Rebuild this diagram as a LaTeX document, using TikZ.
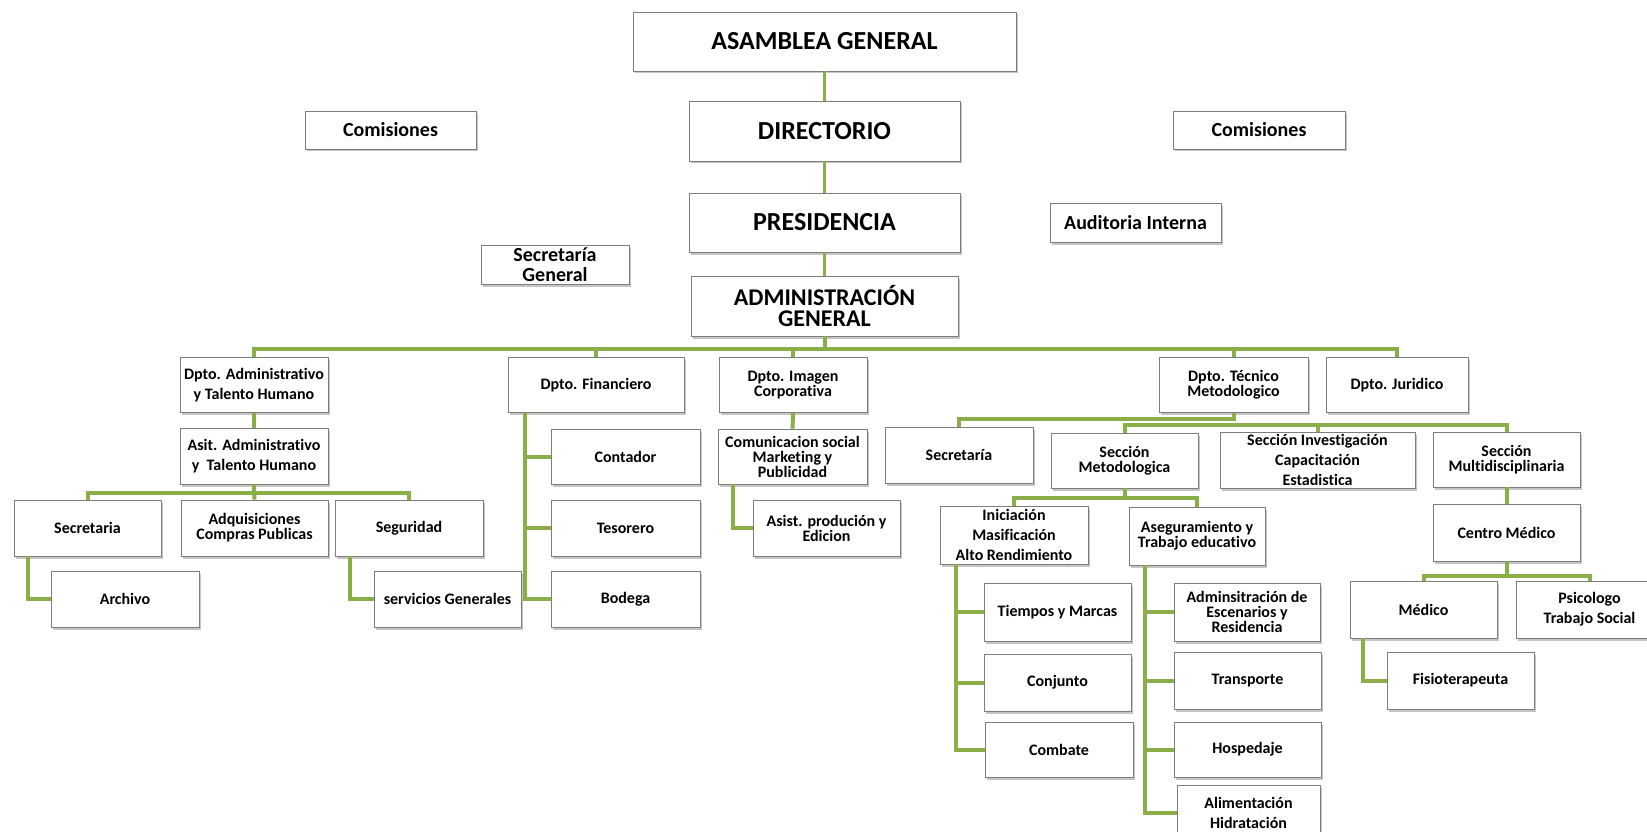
\documentclass[tikz,border=0pt]{standalone}
\usepackage{fontspec}
\setmainfont{Carlito}[Ligatures=NoCommon]
\usetikzlibrary{shadows}
\definecolor{orggreen}{RGB}{138,174,72}
\definecolor{orgedge}{RGB}{125,125,125}
\tikzset{
    unit/.style={draw=orgedge, fill=white, line width=0.8pt, align=center, inner sep=0pt,
        font=\bfseries\fontsize{16}{15}\selectfont,
        drop shadow={shadow xshift=1.5pt, shadow yshift=-2.5pt, opacity=.45}},
    roomy/.style={unit, font=\bfseries\fontsize{16}{20}\selectfont},
    sz/.style 2 args={minimum width=#1, minimum height=#2},
    head/.style={unit, font=\bfseries\fontsize{26}{21}\selectfont},
    side/.style={unit, font=\bfseries\fontsize{20}{20}\selectfont},
    link/.style={draw=orggreen, line width=4pt},
}
\begin{document}
\begin{tikzpicture}[x=1pt, y=-1pt]
    \fill[white] (0,0) rectangle (1647,832);
    \useasboundingbox (0,0) rectangle (1647,832);
    \clip (0,0) rectangle (1647,832);

    \node[head, sz={383}{59}] (asamblea) at (824.5, 41.5) {ASAMBLEA GENERAL};
    \node[head, sz={271}{60}] (directorio) at (824.5, 131) {DIRECTORIO};
    \node[side, sz={171}{38}] (comisl) at (390.5, 130) {Comisiones};
    \node[side, sz={172}{38}] (comisr) at (1259, 130) {Comisiones};
    \node[head, sz={271}{59}] (presidencia) at (824.5, 222.5) {PRESIDENCIA};
    \node[side, sz={171}{39}] (auditoria) at (1135.5, 222.5) {Auditoria Interna};
    \node[side, sz={148}{39}] (secgen) at (555, 264.5) {Secretaría\\General};
    \node[head, sz={267}{60}, font=\bfseries\fontsize{24}{21}\selectfont] (admin) at (824.5, 306) {ADMINISTRACIÓN\\GENERAL};

    \draw[link, line width=3.5pt] (asamblea) -- (directorio);
    \draw[link, line width=3.5pt] (directorio) -- (presidencia);
    \draw[link, line width=3.5pt] (presidencia) -- (admin);

    \coordinate (busa) at (0, 349);
    \node[roomy, sz={148}{55}] (dadm) at (254, 385) {Dpto. Administrativo\\y Talento Humano};
    \node[unit, sz={176}{55}] (dfin) at (596, 385) {Dpto. Financiero};
    \node[unit, sz={148}{55}] (dimg) at (793, 385) {Dpto. Imagen\\Corporativa};
    \node[unit, sz={149}{55}] (dtec) at (1233.5, 385) {Dpto. Técnico\\Metodologico};
    \node[unit, sz={142}{55}] (djur) at (1397, 385) {Dpto. Juridico};

    \draw[link] (dadm.north) -- (dadm.north |- busa) -| (djur.north);
    \draw[link] (admin.south) -- (admin.south |- busa);
    \foreach \n in {dfin,dimg,dtec}
        \draw[link] (\n.north) -- (\n.north |- busa);

    \node[roomy, sz={148}{56}] (asit) at (254, 456) {Asit. Administrativo\\y~~Talento Humano};
    \node[unit, sz={147}{56}] (secr) at (87.5, 528) {Secretaria};
    \node[unit, sz={147}{56}] (adq) at (254.5, 528) {Adquisiciones\\Compras Publicas};
    \node[unit, sz={148}{56}] (seg) at (409, 528) {Seguridad};
    \node[unit, sz={148}{56}] (arch) at (125, 599) {Archivo};
    \node[unit, sz={147}{56}] (sgen) at (447.5, 599) {servicios Generales};

    \coordinate (busb) at (0, 493);
    \draw[link] (dadm) -- (asit);
    \draw[link] (secr.north) -- (secr.north |- busb) -| (seg.north);
    \draw[link] (asit.south) -- (adq.north);
    \draw[link] ([xshift=14]secr.south west) |- (arch.west);
    \draw[link] ([xshift=15]seg.south west) |- (sgen.west);

    \node[unit, sz={149}{55}] (cont) at (625.5, 456.5) {Contador};
    \node[unit, sz={149}{56}] (teso) at (625.5, 528) {Tesorero};
    \node[unit, sz={149}{56}] (bod) at (625.5, 599) {Bodega};

    \coordinate (finline) at ([xshift=17]dfin.south west);
    \draw[link] (finline) |- (bod.west);
    \foreach \n in {cont,teso}
        \draw[link] (\n.west) -- (\n.west -| finline);

    \node[unit, sz={149}{55}] (comu) at (792.5, 456.5) {Comunicacion social\\Marketing y\\Publicidad};
    \node[unit, sz={147}{56}] (asist) at (826.5, 528) {Asist. produción y\\Edicion};

    \draw[link] (dimg) -- (comu);
    \draw[link] ([xshift=15]comu.south west) |- (asist.west);

    \node[unit, sz={148}{56}] (sect) at (959, 455) {Secretaría};
    \node[unit, sz={147}{55}] (smet) at (1124.5, 460.5) {Sección\\Metodologica};
    \node[roomy, sz={195}{56}] (sinv) at (1317.5, 460) {Sección Investigación\\Capacitación\\Estadistica};
    \node[unit, sz={147}{55}] (smul) at (1506.5, 459.5) {Sección\\Multidisciplinaria};

    \coordinate (busc) at (0, 419);
    \coordinate (busd) at (0, 425);
    \draw[link] (sect.north) -- (sect.north |- busc) -| (dtec.south);
    \draw[link] (smet.north) -- (smet.north |- busd) -| (smul.north);
    \draw[link] (sinv.north) -- (sinv.north |- busd);

    \node[roomy, sz={148}{58}] (inic) at (1014, 535) {Iniciación\\Masificación\\Alto Rendimiento};
    \node[unit, sz={136}{58}] (aseg) at (1197, 536) {Aseguramiento y\\Trabajo educativo};

    \coordinate (buse) at (0, 498);
    \draw[link] (smet.south) -- (smet.south |- buse);
    \draw[link] (inic.north) -- (inic.north |- buse) -| (aseg.north);

    \node[unit, sz={147}{58}] (tiem) at (1057.5, 612) {Tiempos y Marcas};
    \node[unit, sz={147}{57}] (conj) at (1057.5, 682.5) {Conjunto};
    \node[unit, sz={148}{55}] (comb) at (1059, 749.5) {Combate};

    \coordinate (inicline) at ([xshift=16]inic.south west);
    \draw[link] (inicline) |- (comb.west);
    \foreach \n in {tiem,conj}
        \draw[link] (\n.west) -- (\n.west -| inicline);

    \node[unit, sz={146}{58}] (esce) at (1247, 612) {Adminsitración de\\Escenarios y\\Residencia};
    \node[unit, sz={147}{57}] (trans) at (1247.5, 680.5) {Transporte};
    \node[unit, sz={147}{55}] (hosp) at (1247.5, 749.5) {Hospedaje};
    \node[roomy, sz={143}{56}] (alim) at (1248.5, 813) {Alimentación\\Hidratación};

    \coordinate (asegline) at ([xshift=16]aseg.south west);
    \draw[link] (asegline) |- (alim.west);
    \foreach \n in {esce,trans,hosp}
        \draw[link] (\n.west) -- (\n.west -| asegline);

    \node[unit, sz={147}{57}] (cmed) at (1506.5, 532.5) {Centro Médico};
    \node[unit, sz={147}{57}] (med) at (1423.5, 609.5) {Médico};
    \node[roomy, sz={147}{57}] (psic) at (1589.5, 609.5) {Psicologo\\Trabajo Social};
    \node[unit, sz={147}{57}] (fisio) at (1460.5, 680.5) {Fisioterapeuta};

    \coordinate (busf) at (0, 576);
    \draw[link] (smul) -- (cmed);
    \draw[link] (cmed.south) -- (cmed.south |- busf);
    \draw[link] (med.north) -- (med.north |- busf) -| (psic.north);
    \draw[link] ([xshift=13]med.south west) |- (fisio.west);
\end{tikzpicture}
\end{document}
